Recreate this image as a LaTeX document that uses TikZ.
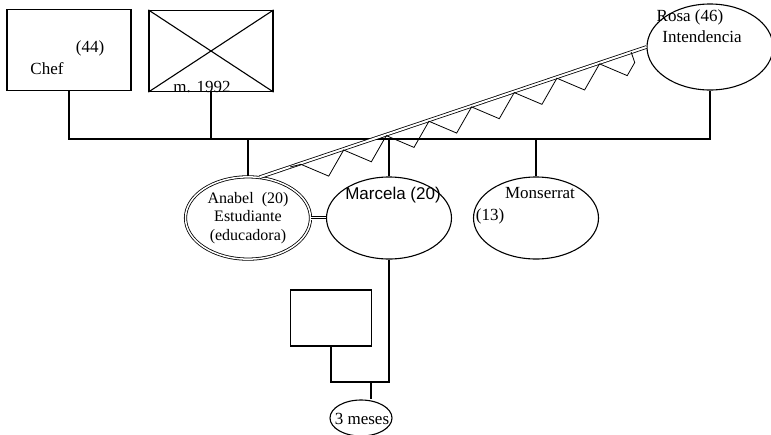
\documentclass[tikz,border=0pt]{standalone}
\usepackage{fontspec}
\setmainfont{Liberation Serif}
\newfontfamily\arialfont{Liberation Sans}
\usetikzlibrary{shapes.geometric,decorations.pathmorphing}
\tikzset{
	person/.style={draw, line width=1.1pt, minimum width=125pt, minimum height=82pt},
	woman/.style={person, ellipse},
	man/.style={person, rectangle, minimum width=124pt, minimum height=81pt},
	kin/.style={line width=1.1pt},
	hostile/.style={line width=0.8pt, decorate, decoration={zigzag, segment length=45pt, amplitude=10pt, raise=-11pt, pre=moveto, pre length=32pt, post=moveto, post length=12pt}}
}
\begin{document}
\begin{tikzpicture}[x=1pt,y=-1pt,font=\fontsize{17}{20}\selectfont]
	\useasboundingbox (0,0) rectangle (771,434);
	% padres
	\node[man] (chef) at (69,50) {};
	\node at (90,48) {(44)};
	\node at (47,69) {Chef};
	\node[man] (exman) at (211,51) {};
	\draw[kin] (exman.north west) -- (exman.south east);
	\draw[kin] (exman.south west) -- (exman.north east);
	\node at (202,87) {m. 1992};
	\node[woman, minimum width=126pt, minimum height=86pt] (rosa) at (710,47) {};
	\node at (690,17) {Rosa (46)};
	\node at (702,37) {Intendencia};
	% hijas
	\coordinate (sibs) at (400,139);
	\draw[kin] (chef.south) |- (sibs) -| (rosa.south);
	\draw[kin] (exman.south) -- (exman.south |- sibs);
	\node[woman, line width=0.8pt, double, double distance=1.5pt, align=center, font=\fontsize{16}{18.5}\selectfont] (anabel) at (248,218) {Anabel~~(20)\\Estudiante\\(educadora)};
	\node[woman] (marcela) at (389,218) {};
	\node[font=\arialfont\fontsize{17}{20}\selectfont] at (393,195) {Marcela (20)};
	\node[woman] (monse) at (536,218) {};
	\node at (540,193) {Monserrat};
	\node at (490,216) {(13)};
	\foreach \kid in {anabel,marcela,monse}
		\draw[kin] (\kid.north) -- (\kid.north |- sibs);
	% nieto
	\node[man, minimum width=81pt, minimum height=56pt] (bfather) at (331,318) {};
	\node[woman, minimum width=62pt, minimum height=36pt] (baby) at (361,418) {};
	\node at (362,419) {3 meses};
	\coordinate (couple) at (371,382);
	\draw[kin] (marcela.south) |- (couple) -| (bfather.south);
	\draw[kin] (couple) -- (couple |- baby.north);
	% relaciones
	\draw[line width=0.8pt, double, double distance=2pt] (anabel.74) -- (rosa.west);
	\draw[hostile] (anabel.74) -- (rosa.west);
	\draw[line width=0.8pt, double, double distance=3pt] (anabel.east) -- (marcela.west);
	\draw[line width=0.8pt] (anabel.east) -- (marcela.west);
\end{tikzpicture}
\end{document}
